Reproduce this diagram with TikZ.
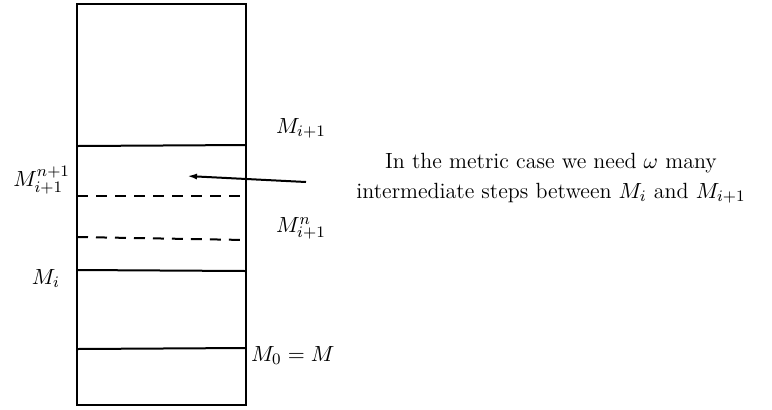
\documentclass[tikz,border=0pt]{standalone}
\usetikzlibrary{positioning, arrows.meta}
\newcommand{\stackarrow}{-{Latex[length=5pt,width=3pt]}}
\tikzset{stepline/.style={dash pattern=on 5.5pt off 4pt},
        every node/.style={font=\fontsize{11}{15}\selectfont, inner sep=0pt}}

\begin{document}
\begin{tikzpicture}[x=0.5pt, y=-0.5pt, line width=1pt]
        \useasboundingbox (0,0) rectangle (772,409);
        \draw (77,4) rectangle (246,405);
        \draw (77,146) -- (246,145);
        \draw[stepline] (77,196) -- (246,196);
        \draw[stepline] (77,237) -- (246,240);
        \draw (77,270) -- (246,271);
        \draw (77,349) -- (246,348);
        \node[anchor=base west] (next) at (275,133) {$M_{i+1}$};
        \node[anchor=base east] (stepup) at (71,186) {$M_{i+1}^{n+1}$};
        \node[anchor=base west] (step) at (275,232) {$M_{i+1}^{n}$};
        \node[anchor=base east] (cur) at (61,284) {$M_i$};
        \node[anchor=base west] (start) at (250,361) {$M_0 = M$};
        \node[align=center] (note) at (551,178)
        {In the metric case we need $\omega$ many\\
        intermediate steps between $M_i$ and $M_{i+1}$};
        \coordinate (tail) at (306,182);
        \coordinate (tip) at (187,176);
        \draw[\stackarrow] (tail) -- (tip);
\end{tikzpicture}
\end{document}
